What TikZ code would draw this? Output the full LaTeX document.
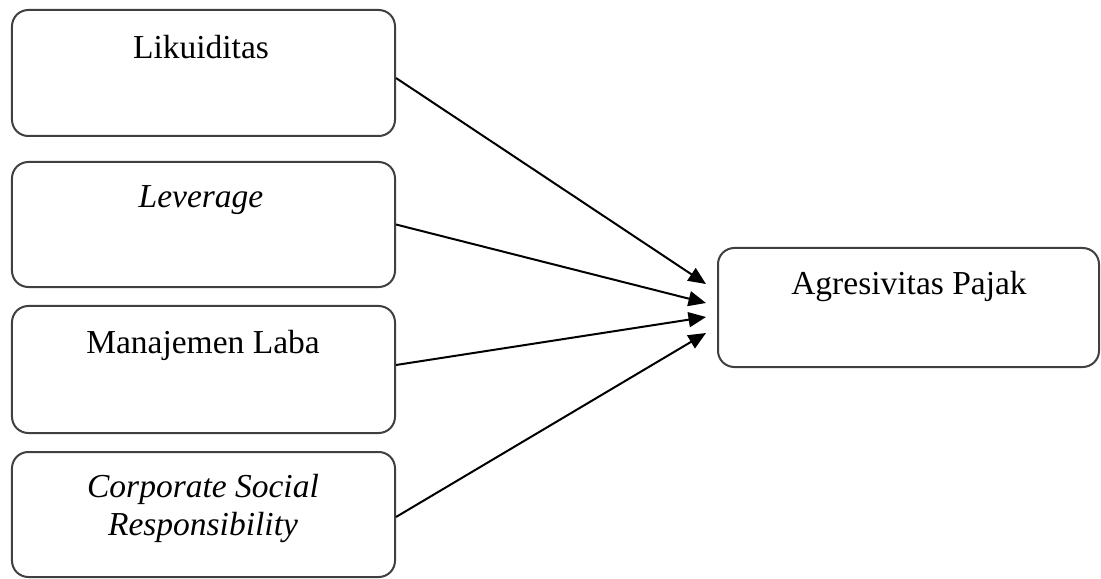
\documentclass[tikz,border=0pt]{standalone}
\usepackage{fontspec}
\setmainfont{Liberation Serif}
\usetikzlibrary{arrows.meta}
\begin{document}
\begin{tikzpicture}[x=0.4pt,y=-0.4pt,
  box/.style={draw=black!75,line width=0.8pt,rounded corners=6.5pt,rectangle,inner sep=0pt},
  lbl/.style={font=\fontsize{13.4}{15.2}\selectfont,align=center,inner sep=0pt},
  conn/.style={line width=0.8pt,-{Triangle[length=7pt,width=6pt]}}]
\useasboundingbox (0,0) rectangle (1101,579);
\node[box,minimum width=153.2pt,minimum height=50.4pt] (b1) at (203.5,73) {};
\node[box,minimum width=153.2pt,minimum height=50pt] (b2) at (203.5,224.5) {};
\node[box,minimum width=153.2pt,minimum height=50.8pt] (b3) at (203.5,369.5) {};
\node[box,minimum width=153.2pt,minimum height=50pt] (b4) at (203.5,514.5) {};
\node[box,minimum width=152.4pt,minimum height=47.6pt] (r) at (908.5,307.5) {};
\node[lbl] (l1) at (201,47) {Likuiditas};
\node[lbl] (l2) at (201,200) {\itshape Leverage};
\node[lbl] (l3) at (203,345) {Manajemen Laba};
\node[lbl] (l4) at (203,508) {\itshape Corporate Social\\\itshape Responsibility};
\node[lbl] (lr) at (909,286) {Agresivitas Pajak};
\coordinate (t1) at (706,284);
\coordinate (t2) at (706,303);
\coordinate (t3) at (706,317);
\coordinate (t4) at (706,333);
\draw[conn] (b1.east |- 0,78) -- (t1);
\draw[conn] (b2.east) -- (t2);
\draw[conn] (b3.east |- 0,365) -- (t3);
\draw[conn] (b4.east |- 0,517) -- (t4);
\end{tikzpicture}
\end{document}
